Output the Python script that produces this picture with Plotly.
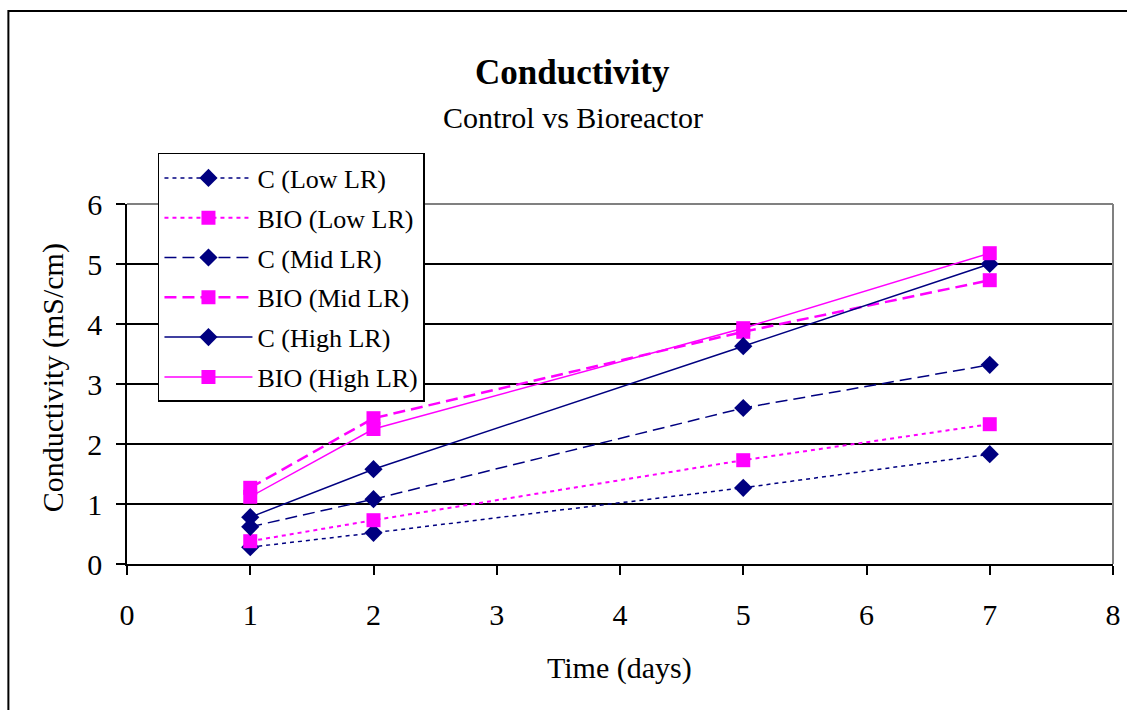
import plotly.graph_objects as go

days = [1, 2, 5, 7]
c_low = [0.28, 0.52, 1.27, 1.83]
bio_low = [0.38, 0.73, 1.73, 2.33]
c_mid = [0.62, 1.08, 2.60, 3.32]
bio_mid = [1.27, 2.43, 3.87, 4.73]
c_high = [0.78, 1.58, 3.63, 5.00]
bio_high = [1.12, 2.25, 3.93, 5.18]

series = [
    ("C (Low LR)", c_low, "#000080", "diamond", "4px,4px", 1.5),
    ("BIO (Low LR)", bio_low, "#FF00FF", "square", "4px,4px", 2),
    ("C (Mid LR)", c_mid, "#000080", "diamond", "12px,6px", 1.5),
    ("BIO (Mid LR)", bio_mid, "#FF00FF", "square", "12px,6px", 2.5),
    ("C (High LR)", c_high, "#000080", "diamond", "solid", 1.5),
    ("BIO (High LR)", bio_high, "#FF00FF", "square", "solid", 1.5),
]

fig = go.Figure()
for i, (name, vals, color, sym, dash, w) in enumerate(series):
    fig.add_trace(go.Scatter(
        x=days, y=vals, name=name, mode="lines+markers", legendgroup=f"g{i}",
        line=dict(color=color, dash=dash, width=w),
        marker=dict(symbol=sym, color=color, size=14),
    ))

font = "Liberation Serif, Times New Roman, serif"
fig.update_layout(
    width=1127, height=710,
    margin=dict(l=127, r=14, t=204, b=146),
    paper_bgcolor="white", plot_bgcolor="white",
    font=dict(family=font, size=30, color="black"),
    showlegend=True,
    legend=dict(
        x=0.0314, y=1.1417, xanchor="left", yanchor="top",
        bordercolor="black", borderwidth=1.5, bgcolor="white",
        font=dict(family=font, size=26, color="black"),
        itemwidth=88, tracegroupgap=3,
    ),
    xaxis=dict(
        range=[0, 8], dtick=1, tick0=0, showgrid=False, zeroline=False,
        showline=True, linecolor="black", linewidth=1.5, automargin=False,
        ticks="outside", ticklen=9, tickcolor="black", tickwidth=1.5,
        ticklabelstandoff=14,
        tickfont=dict(family=font, size=30),
    ),
    yaxis=dict(
        range=[0, 6], dtick=1, tick0=0, showgrid=True, gridcolor="black", gridwidth=1.5,
        zeroline=False, showline=True, linecolor="black", linewidth=1.5, automargin=False,
        ticks="outside", ticklen=9, tickcolor="black", tickwidth=1.5,
        ticklabelstandoff=8,
        tickfont=dict(family=font, size=30),
    ),
    annotations=[
        dict(text="<b>Conductivity</b>", x=0.452, y=1.364, xref="paper", yref="paper",
             showarrow=False, font=dict(family=font, size=35), xanchor="center", yanchor="middle"),
        dict(text="Control vs Bioreactor", x=0.452, y=1.239, xref="paper", yref="paper",
             showarrow=False, font=dict(family=font, size=30), xanchor="center", yanchor="middle"),
        dict(text="Time (days)", x=0.4995, y=-0.289, xref="paper", yref="paper",
             showarrow=False, font=dict(family=font, size=30), xanchor="center", yanchor="middle"),
        dict(text="Conductivity (mS/cm)", x=-0.0747, y=0.517, xref="paper", yref="paper",
             showarrow=False, textangle=-90, font=dict(family=font, size=30),
             xanchor="center", yanchor="middle"),
    ],
    shapes=[
        dict(type="line", xref="paper", yref="paper", x0=0, x1=1, y0=1, y1=1,
             line=dict(color="#808080", width=2), layer="above"),
        dict(type="line", xref="paper", yref="paper", x0=1, x1=1, y0=0, y1=1,
             line=dict(color="#808080", width=2), layer="above"),
        dict(type="rect", xref="paper", yref="paper", x0=-0.1203, x1=1.03, y0=-0.42, y1=1.536,
             line=dict(color="black", width=2), layer="below"),
    ],
)

fig.write_html("out.html")
